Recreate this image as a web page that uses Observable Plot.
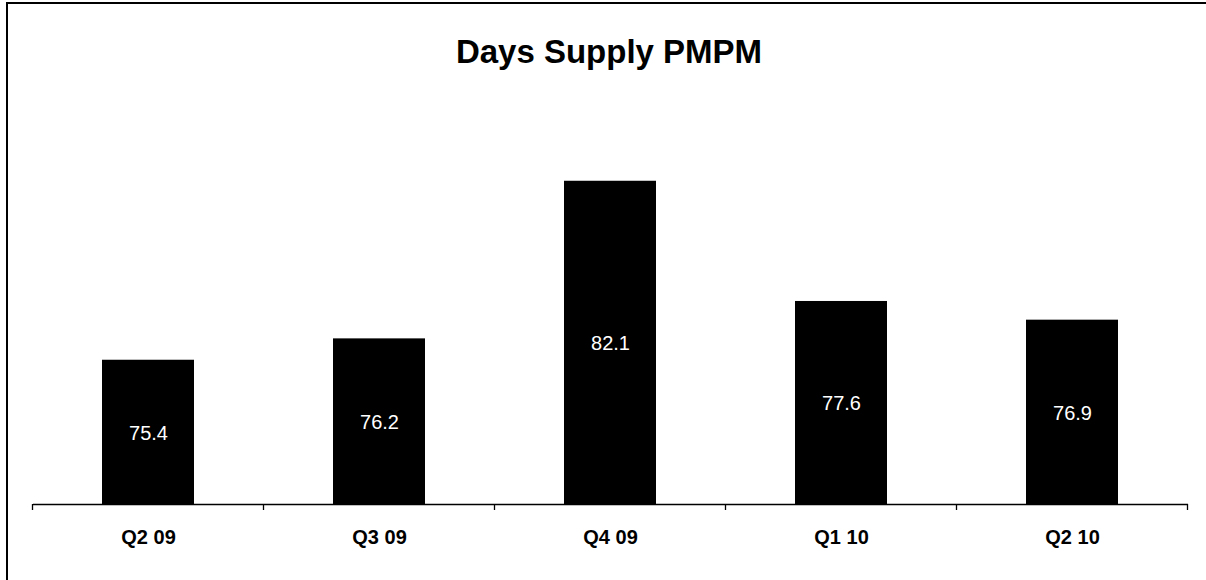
<!DOCTYPE html>
<html>
<head>
<meta charset="utf-8">
<script src="https://cdn.jsdelivr.net/npm/d3@7"></script>
<script src="https://cdn.jsdelivr.net/npm/@observablehq/plot@0.6"></script>
<style>
  html, body { margin: 0; padding: 0; background: #fff; }
  #wrap { position: relative; width: 1206px; height: 580px; overflow: hidden; font-family: "Liberation Sans", Arial, sans-serif; }
  #frame { position: absolute; left: 6px; top: 2px; width: 1400px; height: 800px; border-left: 2px solid #000; border-top: 2px solid #000; box-sizing: border-box; pointer-events: none; }
  #title { position: absolute; left: 0; width: 1218px; top: 35px; text-align: center; font-size: 33px; line-height: 33px; font-weight: bold; color: #000; }
  #chart { position: absolute; left: 0; top: 0; }
</style>
</head>
<body>
<div id="wrap">
  <div id="chart"></div>
  <div id="frame"></div>
  <div id="title">Days Supply PMPM</div>
</div>
<script>
const categories = ["Q2 09", "Q3 09", "Q4 09", "Q1 10", "Q2 10"];
const values = [75.4, 76.2, 82.1, 77.6, 76.9];
const yDomain = [70, 84];

const data = categories.map((q, i) => ({q, v: values[i]}));
const base = yDomain[0];

const chart = Plot.plot({
  width: 1206,
  height: 580,
  marginLeft: 33,
  marginRight: 18,
  marginTop: 130,
  marginBottom: 76,
  style: {fontFamily: "'Liberation Sans', Arial, sans-serif", background: "transparent"},
  x: {domain: categories, paddingInner: 0.6, paddingOuter: 0.3, axis: null},
  y: {domain: yDomain, axis: null},
  marks: [
    Plot.barY(data, {x: "q", y1: base, y2: "v", fill: "#000"}),
    Plot.ruleY([base], {stroke: "#000", strokeWidth: 1.3}),
    Plot.text(data, {x: "q", y: d => (base + d.v) / 2, text: d => d.v.toFixed(1), fill: "#fff", fontSize: 20, dy: 1}),
    Plot.text(data, {x: "q", y: base, text: "q", dy: 33, fill: "#000", fontSize: 20, fontWeight: "bold"})
  ]
});
document.getElementById("chart").appendChild(chart);

// tick marks at band boundaries, computed from Plot's own x and y scales
const xs = chart.scale("x");
const ys = chart.scale("y");
const gap = (xs.step - xs.bandwidth) / 2;
const bounds = categories.map(c => xs.apply(c) - gap);
bounds.push(xs.apply(categories[categories.length - 1]) + xs.bandwidth + gap);
const y0 = ys.apply(base);
d3.select(chart).append("g")
  .attr("stroke", "#000")
  .attr("stroke-width", 1.3)
  .selectAll("line")
  .data(bounds)
  .join("line")
  .attr("x1", d => d).attr("x2", d => d)
  .attr("y1", y0).attr("y2", y0 + 6);
</script>
</body>
</html>
